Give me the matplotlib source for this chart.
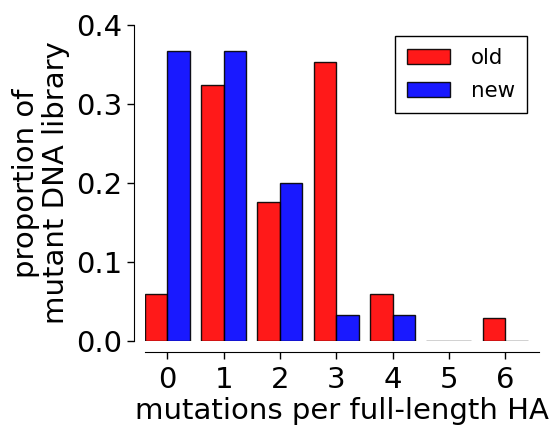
import numpy as np
import matplotlib
matplotlib.use('Agg')
import matplotlib.pyplot as plt

# mutations per full-length HA
mutations = [0, 1, 2, 3, 4, 5, 6]
old_prop = [0.059, 0.324, 0.176, 0.353, 0.059, 0.0, 0.029]
new_prop = [0.367, 0.367, 0.200, 0.033, 0.033, 0.0, 0.0]
yticks = [0.0, 0.1, 0.2, 0.3, 0.4]

plt.rcParams['font.family'] = ['DejaVu Sans']

fig = plt.figure(figsize=(5.55, 4.25), dpi=100)
ax = fig.add_axes([0.261, 0.198, 0.71, 0.744])

x = np.array(mutations)
w = 0.4
ax.bar(x - w / 2, old_prop, width=w, color='red', alpha=0.9,
       edgecolor='black', linewidth=1, label='old')
ax.bar(x + w / 2, new_prop, width=w, color='blue', alpha=0.9,
       edgecolor='black', linewidth=1, label='new')

ax.set_xlim(-0.4, 6.6)
ax.set_ylim(0, 0.4)
ax.set_xticks(mutations)
ax.set_yticks(yticks)
ax.set_yticklabels([f'{v:.1f}' for v in yticks])

for s in ['top', 'right']:
    ax.spines[s].set_visible(False)
ax.spines['left'].set_position(('outward', 8))
ax.spines['bottom'].set_position(('outward', 8))
ax.tick_params(axis='both', labelsize=21, direction='out', length=5, width=1)
ax.tick_params(axis='x', pad=5)

ax.set_xlabel('mutations per full-length HA', fontsize=21, labelpad=2)
ax.set_ylabel('proportion of\nmutant DNA library', fontsize=21, labelpad=4,
              linespacing=1.1)

ax.legend(loc='upper right', fontsize=15.4, fancybox=False, edgecolor='black',
          framealpha=1, handlelength=2.0, handletextpad=1.0, borderpad=0.55,
          labelspacing=0.6, borderaxespad=0.55)

fig.savefig('out.png', dpi=100)
